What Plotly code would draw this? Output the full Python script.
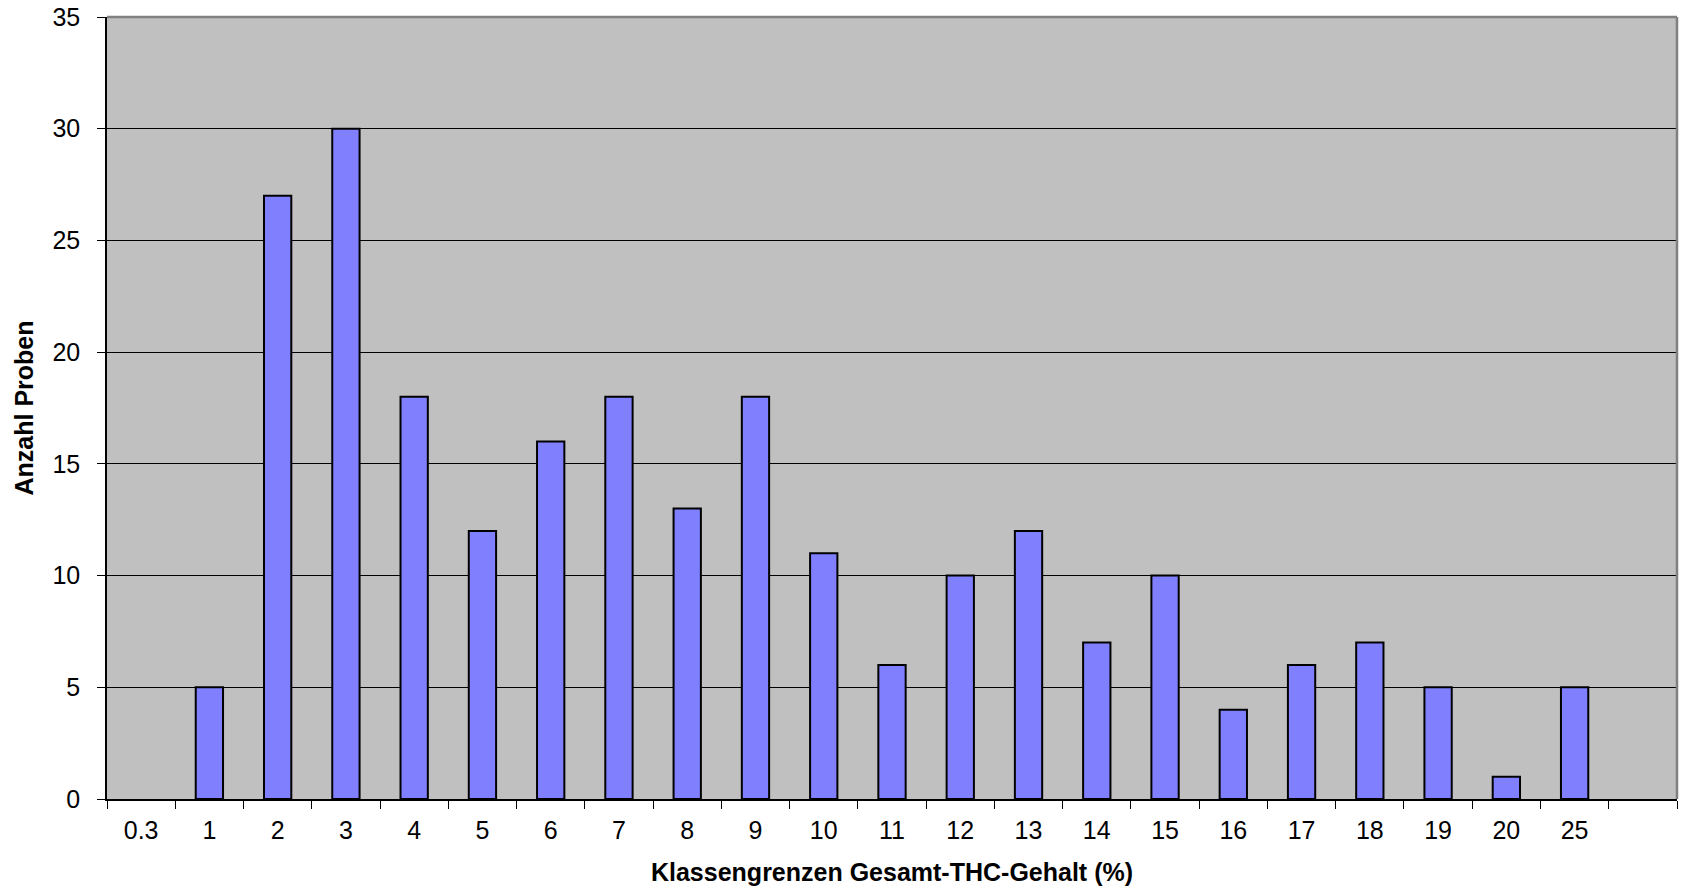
import plotly.graph_objects as go

categories = ["0.3", "1", "2", "3", "4", "5", "6", "7", "8", "9", "10", "11",
              "12", "13", "14", "15", "16", "17", "18", "19", "20", "25", " "]
counts = [0, 5, 27, 30, 18, 12, 16, 18, 13, 18, 11, 6,
          10, 12, 7, 10, 4, 6, 7, 5, 1, 5, None]
y_ticks = [0, 5, 10, 15, 20, 25, 30, 35]

FONT = "Liberation Sans, Arial, sans-serif"

# no outline for empty (zero) classes, as in the original
outline_widths = [2 if v else 0 for v in counts]

fig = go.Figure(
    go.Bar(
        x=categories,
        y=counts,
        marker=dict(color="#8080FF", line=dict(color="#000000", width=outline_widths)),
        hoverinfo="x+y",
    )
)

fig.update_layout(
    width=1685,
    height=891,
    margin=dict(l=107, r=8, t=17, b=92),
    paper_bgcolor="#FFFFFF",
    plot_bgcolor="#C0C0C0",
    bargap=0.6,
    showlegend=False,
    font=dict(family=FONT, size=25, color="#000000"),
)

fig.update_xaxes(
    type="category",
    categoryorder="array",
    categoryarray=categories,
    automargin=False,
    tickson="boundaries",
    ticks="outside",
    ticklen=8,
    tickwidth=1,
    tickcolor="#000000",
    showline=True,
    linecolor="#000000",
    linewidth=1.5,
    showgrid=False,
    tickfont=dict(family=FONT, size=25),
    ticklabelstandoff=8,
    title=dict(text="<b>Klassengrenzen Gesamt-THC-Gehalt (%)</b>",
               font=dict(family=FONT, size=25), standoff=21),
)

fig.update_yaxes(
    range=[0, 35],
    tickvals=y_ticks,
    automargin=False,
    ticks="outside",
    ticklen=8,
    tickwidth=1,
    tickcolor="#000000",
    showline=True,
    linecolor="#000000",
    linewidth=1.5,
    showgrid=True,
    gridcolor="#000000",
    gridwidth=1,
    zeroline=False,
    tickfont=dict(family=FONT, size=25),
    ticklabelstandoff=12,
    title=dict(text="<b>Anzahl Proben</b>",
               font=dict(family=FONT, size=25), standoff=12),
)

# Excel-style gray plot-area border on top and right
fig.add_shape(type="line", xref="paper", yref="paper", x0=0, x1=1, y0=1, y1=1,
              line=dict(color="#808080", width=2.5), layer="above")
fig.add_shape(type="line", xref="paper", yref="paper", x0=1, x1=1, y0=0, y1=1,
              line=dict(color="#808080", width=2.5), layer="above")

fig.write_html(
    "out.html",
    config={"displayModeBar": False},
    post_script="document.body.style.margin='0';document.body.style.padding='0';",
)
